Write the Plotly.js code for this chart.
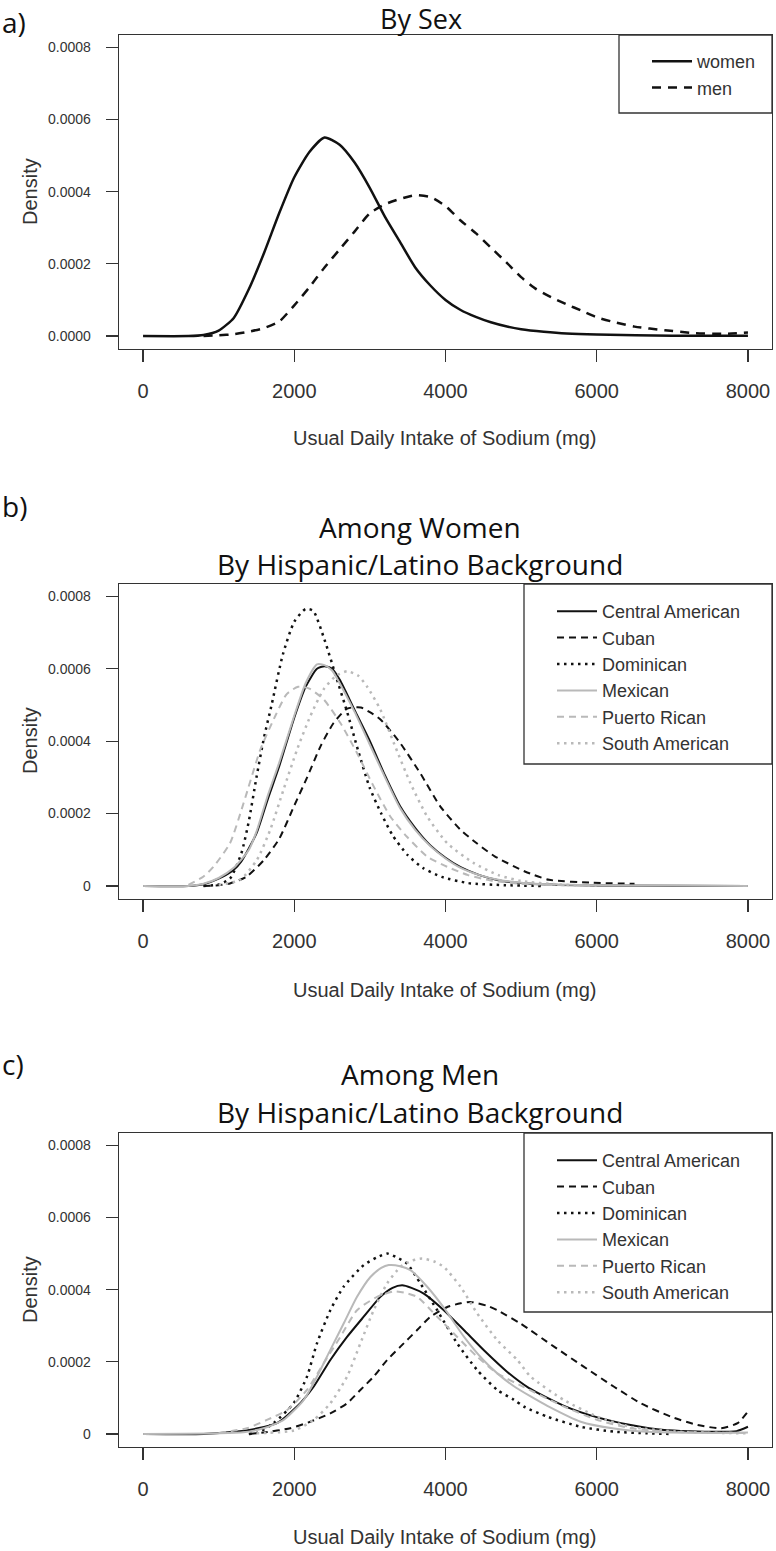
<!DOCTYPE html>
<html>
<head>
<meta charset="utf-8">
<script src="https://cdn.plot.ly/plotly-3.0.1.min.js"></script>
<style>
html,body{margin:0;padding:0;background:#fff;}
#chart{width:776px;height:1551px;}
</style>
</head>
<body>
<div id="chart"></div>
<script>
// ---------- DATA ----------
// Panel a: By Sex
const sexNames = ["women", "men"];
const womenX = [0,600,800,1000,1200,1400,1600,1800,2000,2200,2400,2600,2800,3000,3200,3400,3600,3800,4000,4200,4400,4600,4800,5000,5300,5600,6000,7000,8000];
const womenY = [0,0,0.000003,0.000015,0.00005,0.00013,0.00023,0.00034,0.00044,0.00051,0.00055,0.00053,0.00048,0.00041,0.00033,0.00026,0.00019,0.00014,0.0001,0.000072,0.000053,0.000038,0.000027,0.000019,0.000012,0.000007,0.000004,0.000001,0.000001];
const menX = [800,1000,1200,1400,1600,1800,2000,2200,2400,2600,2800,3000,3200,3400,3600,3800,4000,4200,4400,4600,4800,5000,5200,5400,5600,5800,6000,6200,6500,6900,7300,7700,8000];
const menY = [0,0.000002,0.000005,0.000012,0.000022,0.00004,0.000085,0.000135,0.00019,0.00024,0.00029,0.00034,0.000365,0.00038,0.00039,0.000385,0.00036,0.00032,0.000285,0.000245,0.000205,0.000163,0.00013,0.000107,0.000088,0.00007,0.000052,0.00004,0.000026,0.000016,0.000008,0.000006,0.00001];

// Panel b/c categories
const groups = ["Central American","Cuban","Dominican","Mexican","Puerto Rican","South American"];

// Panel b: Among Women
const wCentralX = [0,600,800,1000,1200,1300,1500,1650,1800,2000,2150,2300,2400,2500,2600,2800,3000,3200,3400,3600,3800,4000,4200,4450,4700,5000,5500,6000,8000];
const wCentralY = [0,0,0.000005,0.00002,0.000045,0.000068,0.000145,0.00024,0.00033,0.000465,0.00055,0.0006,0.000607,0.0006,0.00057,0.000485,0.0004,0.000305,0.00022,0.00016,0.000112,0.000078,0.000052,0.00003,0.000016,0.000008,0.000003,0.000001,0];
const wCubanX = [800,1000,1150,1370,1600,1800,2000,2170,2350,2520,2700,2880,3000,3140,3400,3670,3930,4200,4400,4650,5050,5370,5950,6500];
const wCubanY = [0,0.000002,0.000007,0.000026,0.000072,0.00013,0.000222,0.0003,0.000387,0.00045,0.00049,0.000493,0.00048,0.00046,0.000395,0.00031,0.00022,0.000155,0.00012,0.000082,0.00004,0.000017,0.000009,0.000006];
const wDominicanX = [800,1000,1150,1300,1400,1500,1600,1700,1850,2000,2150,2250,2400,2550,2700,2850,3000,3150,3300,3500,3700,3950,4300,4800,5300];
const wDominicanY = [0,0.000004,0.00002,0.00009,0.00018,0.0003,0.00041,0.0005,0.00064,0.00073,0.000765,0.00076,0.00068,0.00058,0.00048,0.00037,0.00027,0.0002,0.00014,0.000085,0.00005,0.000025,0.000008,0.000002,0];
const wMexicanX = [0,600,800,1000,1200,1400,1500,1650,1800,2000,2150,2300,2400,2500,2600,2800,3000,3200,3400,3600,3800,4000,4200,4450,4700,5000,5500,6000,7000,8000];
const wMexicanY = [0,0,0.000006,0.000022,0.00005,0.0001,0.00015,0.00025,0.00034,0.00047,0.00056,0.000612,0.00061,0.000595,0.00056,0.00048,0.00039,0.0003,0.000215,0.000155,0.00011,0.000076,0.00005,0.00003,0.000017,0.000009,0.000004,0.000002,0.000001,0];
const wPuertoX = [600,800,930,1150,1330,1550,1750,1900,2050,2200,2390,2610,2830,3050,3270,3490,3760,4020,4300,4600,5000,5600];
const wPuertoY = [0.000003,0.000026,0.000053,0.000118,0.000229,0.000376,0.00047,0.00053,0.00055,0.000545,0.000515,0.00045,0.000367,0.000275,0.000192,0.000136,0.000081,0.000053,0.00003,0.000015,0.000006,0.000002];
const wSouthX = [1000,1285,1506,1682,1858,2036,2212,2388,2550,2700,2850,2962,3139,3316,3536,3758,4023,4375,4700,5000,5500,6000];
const wSouthY = [0.000003,0.000017,0.000072,0.000155,0.000266,0.000376,0.000469,0.000543,0.00058,0.000593,0.00058,0.000551,0.000487,0.000395,0.000284,0.000192,0.000118,0.000063,0.00003,0.000014,0.000004,0.000001];

// Panel c: Among Men
const mCentralX = [0,800,1240,1500,1771,2036,2256,2477,2698,2918,3139,3300,3426,3550,3713,3978,4243,4508,4817,5100,5567,6009,6450,6892,7554,7850,8000];
const mCentralY = [0,0,0.000007,0.000015,0.00003,0.000076,0.000131,0.000205,0.000269,0.000325,0.00038,0.000405,0.000412,0.000405,0.000389,0.000343,0.000288,0.000232,0.000172,0.000128,0.000078,0.000046,0.000025,0.000011,0.000006,0.000008,0.00002];
const mCubanX = [1400,1594,1947,2212,2477,2698,2874,3050,3228,3404,3625,3801,4023,4200,4331,4552,4685,4993,5435,5832,6229,6583,6980,7334,7642,7863,8000];
const mCubanY = [0,0.000004,0.000016,0.000034,0.000057,0.000085,0.000122,0.000159,0.000205,0.000242,0.000288,0.000325,0.000352,0.000362,0.000366,0.000355,0.000343,0.000306,0.000242,0.000186,0.000131,0.000085,0.000048,0.000025,0.000016,0.00003,0.000062];
const mDominicanX = [1400,1506,1726,1991,2168,2300,2477,2653,2918,3100,3228,3350,3492,3669,3890,4155,4420,4685,4905,5037,5347,5788,6229,6670,7000];
const mDominicanY = [0,0.000003,0.00003,0.000085,0.000159,0.000251,0.000343,0.000408,0.000468,0.00049,0.0005,0.00049,0.000472,0.000417,0.000343,0.000251,0.000177,0.000122,0.000095,0.000076,0.000048,0.00002,0.0000064,0.000002,0];
const mMexicanX = [0,1000,1330,1594,1858,2124,2300,2477,2653,2830,3007,3150,3249,3400,3536,3758,3978,4243,4500,4685,4900,5126,5347,5788,6229,6670,7500,8000];
const mMexicanY = [0,0.000002,0.000005,0.000016,0.000039,0.000094,0.000159,0.000233,0.000306,0.00038,0.000435,0.00046,0.000468,0.000465,0.000454,0.000408,0.00035,0.00027,0.000205,0.000168,0.000133,0.000104,0.000078,0.000034,0.000015,0.000006,0.000003,0.000004];
const mPuertoX = [1000,1374,1638,1903,2168,2388,2609,2830,3095,3316,3450,3625,3890,4155,4420,4685,5037,5567,6009,6450,7000,8000];
const mPuertoY = [0.000003,0.000016,0.000039,0.000066,0.000122,0.000196,0.000269,0.000343,0.00038,0.000395,0.000392,0.00038,0.000325,0.000269,0.000214,0.000168,0.00013,0.000076,0.000039,0.000016,0.000006,0.000003];
const mSouthX = [1500,2000,2256,2477,2698,2874,3050,3228,3404,3550,3691,3850,3978,4199,4420,4685,4950,5126,5567,6009,6450,7113,8000];
const mSouthY = [0.000002,0.00001,0.000039,0.000085,0.000159,0.000251,0.000343,0.000417,0.000463,0.00048,0.000486,0.000478,0.000463,0.000408,0.000334,0.00026,0.000205,0.000159,0.000094,0.000048,0.00002,0.000006,0.000002];

// Axis ticks
const xTickVals = [0,2000,4000,6000,8000];
const xTickText = ["0","2000","4000","6000","8000"];
const yTickVals = [0,0.0002,0.0004,0.0006,0.0008];
const yTickTextA = ["0.0000","0.0002","0.0004","0.0006","0.0008"];
const yTickTextBC = ["0","0.0002","0.0004","0.0006","0.0008"];

// ---------- STYLE ----------
const W = 776, H = 1551;
const BLACK = "#111111", GRAY = "#b9b9b9";
const DASH_A = "9px,7px", DASH = "7px,5px", DOT = "2.5px,4.5px";
const FONT = "Liberation Sans, Arial, sans-serif";
const TFONT = "Open Sans, Noto Sans, sans-serif";
const TXT = "#333333";

function tr(x, y, name, color, dash, width, xa, ya, leg) {
  return {x: x, y: y, name: name, type: "scatter", mode: "lines",
    line: {color: color, dash: dash, width: width, shape: "spline", smoothing: 0.6},
    xaxis: xa, yaxis: ya, legend: leg, hoverinfo: "skip"};
}

const data = [
  tr(womenX, womenY, sexNames[0], BLACK, "solid", 2.5, "x", "y", "legend"),
  tr(menX, menY, sexNames[1], BLACK, DASH_A, 2.5, "x", "y", "legend"),

  tr(wCentralX, wCentralY, groups[0], BLACK, "solid", 2, "x2", "y2", "legend2"),
  tr(wCubanX, wCubanY, groups[1], BLACK, DASH, 2, "x2", "y2", "legend2"),
  tr(wDominicanX, wDominicanY, groups[2], BLACK, DOT, 2.5, "x2", "y2", "legend2"),
  tr(wMexicanX, wMexicanY, groups[3], GRAY, "solid", 2, "x2", "y2", "legend2"),
  tr(wPuertoX, wPuertoY, groups[4], GRAY, DASH, 2, "x2", "y2", "legend2"),
  tr(wSouthX, wSouthY, groups[5], GRAY, DOT, 2.5, "x2", "y2", "legend2"),

  tr(mCentralX, mCentralY, groups[0], BLACK, "solid", 2, "x3", "y3", "legend3"),
  tr(mCubanX, mCubanY, groups[1], BLACK, DASH, 2, "x3", "y3", "legend3"),
  tr(mDominicanX, mDominicanY, groups[2], BLACK, DOT, 2.5, "x3", "y3", "legend3"),
  tr(mMexicanX, mMexicanY, groups[3], GRAY, "solid", 2, "x3", "y3", "legend3"),
  tr(mPuertoX, mPuertoY, groups[4], GRAY, DASH, 2, "x3", "y3", "legend3"),
  tr(mSouthX, mSouthY, groups[5], GRAY, DOT, 2.5, "x3", "y3", "legend3")
];

const px = v => v / W;
const py = v => 1 - v / H;
const xDom = [px(119), px(772)];

function xAxis(anchor) {
  return {domain: xDom, anchor: anchor, range: [-318, 8318], showgrid: false, zeroline: false,
    showline: true, mirror: true, linecolor: "#333", linewidth: 1.3,
    ticks: "outside", ticklen: 12, tickwidth: 1.2, tickcolor: "#333",
    tickvals: xTickVals, ticktext: xTickText, ticklabelstandoff: 12,
    tickfont: {family: FONT, size: 20, color: TXT}, fixedrange: true};
}
function yAxis(anchor, top, bottom, text) {
  return {domain: [py(bottom), py(top)], anchor: anchor, range: [-0.000036, 0.000834],
    showgrid: false, zeroline: false, showline: true, mirror: true, linecolor: "#333", linewidth: 1.3,
    ticks: "outside", ticklen: 12, tickwidth: 1.2, tickcolor: "#333",
    tickvals: yTickVals, ticktext: text, ticklabelstandoff: 12,
    tickfont: {family: FONT, size: 14, color: TXT}, fixedrange: true};
}

function legendAt(left, top) {
  return {x: px(left), y: py(top), xanchor: "left", yanchor: "top", bgcolor: "rgba(0,0,0,0)",
    borderwidth: 0, itemwidth: 40, font: {family: FONT, size: 18, color: TXT}, tracegroupgap: 0};
}

function ann(text, x, y, size, family, xanchor, angle) {
  return {text: text, x: px(x), y: py(y), xref: "paper", yref: "paper", showarrow: false,
    xanchor: xanchor || "center", yanchor: "middle", textangle: angle || 0,
    font: {family: family, size: size, color: "#111"}};
}

const xTitle = "Usual Daily Intake of Sodium (mg)";
const annotations = [
  ann("a)", 0, 22, 28, TFONT, "left"),
  ann("By Sex", 421, 18, 27, TFONT),
  ann("b)", 0, 506, 28, TFONT, "left"),
  ann("Among Women", 420, 527, 28, TFONT),
  ann("By Hispanic/Latino Background", 420, 564, 28, TFONT),
  ann("c)", 0, 1064, 28, TFONT, "left"),
  ann("Among Men", 420, 1074, 28, TFONT),
  ann("By Hispanic/Latino Background", 420, 1112, 28, TFONT),
  ann(xTitle, 445, 438, 20, FONT),
  ann(xTitle, 445, 990, 20, FONT),
  ann(xTitle, 445, 1537, 20, FONT),
  ann("Density", 30, 192, 20, FONT, "center", -90),
  ann("Density", 30, 741, 20, FONT, "center", -90),
  ann("Density", 30, 1290, 20, FONT, "center", -90)
];
annotations.forEach(a => { if (a.font.family === FONT) a.font.color = TXT; });

function box(l, t, r, b) {
  return {type: "rect", xref: "paper", yref: "paper", x0: px(l), x1: px(r), y0: py(b), y1: py(t),
    line: {color: "#333", width: 1.3}, fillcolor: "rgba(0,0,0,0)", layer: "above"};
}

const layout = {
  width: W, height: H, margin: {l: 0, r: 0, t: 0, b: 0},
  paper_bgcolor: "#fff", plot_bgcolor: "#fff", showlegend: true,
  xaxis: xAxis("y"), yaxis: yAxis("x", 35, 349, yTickTextA),
  xaxis2: xAxis("y2"), yaxis2: yAxis("x2", 584, 899, yTickTextBC),
  xaxis3: xAxis("y3"), yaxis3: yAxis("x3", 1133, 1447, yTickTextBC),
  legend: legendAt(647, 43),
  legend2: legendAt(552, 593),
  legend3: legendAt(552, 1142),
  annotations: annotations,
  shapes: [box(619, 35, 772, 113), box(524, 584, 772, 764), box(524, 1133, 772, 1312)]
};

Plotly.newPlot("chart", data, layout, {staticPlot: true, displayModeBar: false});
</script>
</body>
</html>
